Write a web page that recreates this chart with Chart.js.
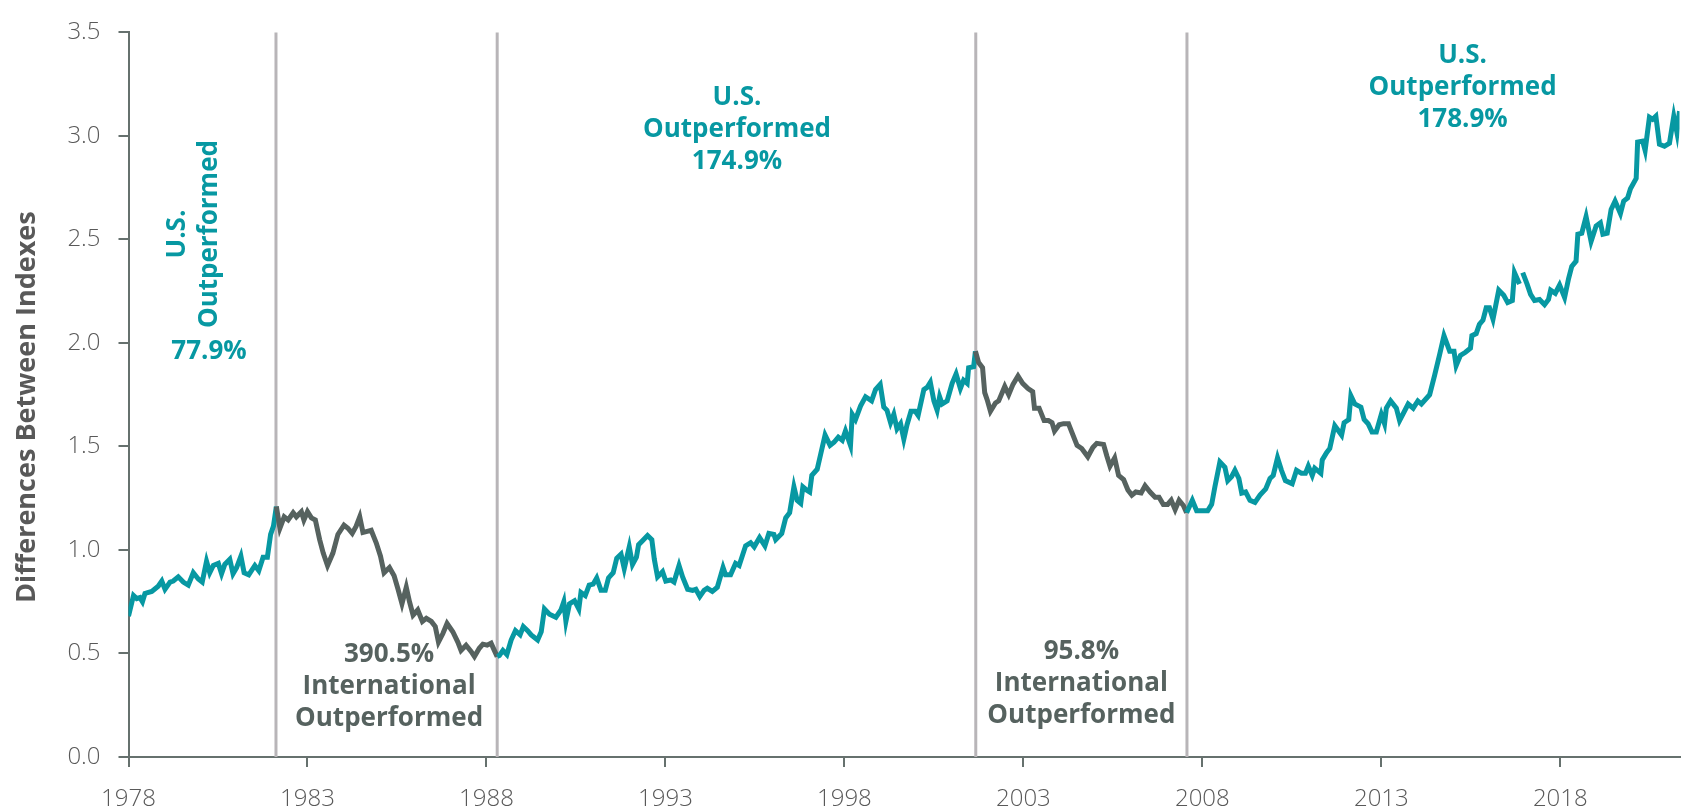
<!DOCTYPE html>
<html>
<head>
<meta charset="utf-8">
<title>Differences Between Indexes</title>
<script src="https://cdn.jsdelivr.net/npm/chart.js"></script>
<style>
  html, body { margin: 0; padding: 0; background: #fff; }
  #wrap { width: 1682px; height: 811px; }
</style>
</head>
<body>
<div id="wrap"><canvas id="ratioChart" width="1682" height="811"></canvas></div>
<script>
    // ratio between the indexes, [year, value], one list per period
    const usRun1978 = [
        [1978.00,0.68],[1978.14,0.78],[1978.23,0.765],[1978.32,0.77],[1978.39,0.75],[1978.46,0.79],
        [1978.65,0.80],[1978.83,0.825],[1978.93,0.85],[1979.02,0.81],[1979.16,0.845],[1979.25,0.85],
        [1979.39,0.87],[1979.53,0.845],[1979.67,0.83],[1979.81,0.89],[1979.95,0.86],[1980.06,0.845],
        [1980.18,0.945],[1980.27,0.89],[1980.37,0.925],[1980.51,0.935],[1980.60,0.885],[1980.69,0.93],
        [1980.83,0.955],[1980.92,0.885],[1981.02,0.915],[1981.14,0.97],[1981.23,0.89],[1981.36,0.88],
        [1981.53,0.925],[1981.64,0.90],[1981.76,0.965],[1981.88,0.965],[1981.97,1.075],[1982.05,1.115],
        [1982.13,1.21]
    ];
    const intlRun1982 = [
        [1982.23,1.105],[1982.35,1.16],[1982.46,1.145],[1982.60,1.18],[1982.69,1.16],[1982.83,1.185],
        [1982.90,1.145],[1983.00,1.185],[1983.11,1.155],[1983.22,1.145],[1983.34,1.05],[1983.44,0.985],
        [1983.56,0.925],[1983.71,0.985],[1983.85,1.075],[1984.02,1.12],[1984.13,1.105],[1984.25,1.08],
        [1984.36,1.115],[1984.46,1.16],[1984.55,1.085],[1984.67,1.09],[1984.78,1.095],[1984.92,1.035],
        [1985.04,0.97],[1985.14,0.89],[1985.29,0.915],[1985.42,0.875],[1985.53,0.81],[1985.64,0.74],
        [1985.76,0.82],[1985.85,0.75],[1985.95,0.685],[1986.08,0.71],[1986.21,0.655],[1986.32,0.67],
        [1986.46,0.655],[1986.57,0.63],[1986.66,0.555],[1986.78,0.595],[1986.90,0.645],[1987.06,0.605],
        [1987.20,0.555],[1987.29,0.515],[1987.43,0.54],[1987.57,0.51],[1987.665,0.485],[1987.80,0.525],
        [1987.90,0.545],[1988.02,0.54],[1988.13,0.55],[1988.22,0.515],[1988.30,0.485]
    ];
    const usRun1988 = [
        [1988.36,0.49],[1988.46,0.515],[1988.57,0.495],[1988.69,0.565],[1988.81,0.61],[1988.94,0.59],
        [1989.03,0.63],[1989.15,0.61],[1989.25,0.59],[1989.43,0.565],[1989.53,0.605],[1989.62,0.715],
        [1989.76,0.69],[1989.94,0.675],[1990.08,0.71],[1990.16,0.75],[1990.22,0.655],[1990.32,0.74],
        [1990.46,0.755],[1990.58,0.715],[1990.64,0.795],[1990.76,0.78],[1990.87,0.83],[1990.98,0.835],
        [1991.08,0.865],[1991.20,0.805],[1991.32,0.805],[1991.41,0.865],[1991.54,0.89],[1991.64,0.96],
        [1991.76,0.98],[1991.85,0.91],[1991.99,1.015],[1992.08,0.93],[1992.19,0.965],[1992.25,1.025],
        [1992.36,1.045],[1992.50,1.07],[1992.62,1.05],[1992.69,0.955],[1992.78,0.87],[1992.92,0.895],
        [1993.01,0.85],[1993.15,0.855],[1993.24,0.845],[1993.38,0.925],[1993.48,0.87],[1993.62,0.81],
        [1993.76,0.805],[1993.85,0.81],[1993.96,0.775],[1994.08,0.805],[1994.17,0.815],[1994.31,0.80],
        [1994.45,0.82],[1994.61,0.915],[1994.68,0.88],[1994.82,0.88],[1994.96,0.935],[1995.06,0.925],
        [1995.24,1.02],[1995.38,1.035],[1995.48,1.015],[1995.63,1.06],[1995.78,1.02],[1995.89,1.08],
        [1996.03,1.075],[1996.08,1.05],[1996.25,1.08],[1996.36,1.155],[1996.47,1.18],[1996.59,1.305],
        [1996.68,1.24],[1996.78,1.225],[1996.84,1.305],[1996.94,1.29],[1997.03,1.28],[1997.09,1.36],
        [1997.24,1.39],[1997.34,1.465],[1997.46,1.555],[1997.60,1.505],[1997.71,1.52],[1997.83,1.545],
        [1997.94,1.53],[1998.03,1.575],[1998.17,1.505],[1998.22,1.655],[1998.31,1.63],[1998.45,1.695],
        [1998.59,1.74],[1998.76,1.72],[1998.87,1.775],[1999.00,1.80],[1999.10,1.69],[1999.19,1.675],
        [1999.29,1.615],[1999.38,1.655],[1999.47,1.585],[1999.57,1.61],[1999.66,1.535],[1999.75,1.605],
        [1999.86,1.67],[1999.98,1.67],[2000.06,1.65],[2000.22,1.775],[2000.31,1.785],[2000.40,1.81],
        [2000.50,1.72],[2000.59,1.675],[2000.66,1.74],[2000.73,1.705],[2000.87,1.72],[2001.01,1.805],
        [2001.12,1.85],[2001.24,1.78],[2001.33,1.82],[2001.43,1.805],[2001.47,1.88],[2001.61,1.885],
        [2001.66,1.96]
    ];
    const intlRun2001 = [
        [2001.75,1.905],[2001.86,1.88],[2001.92,1.76],[2001.99,1.725],[2002.08,1.67],[2002.22,1.71],
        [2002.31,1.72],[2002.48,1.79],[2002.59,1.75],[2002.71,1.80],[2002.85,1.84],[2002.98,1.805],
        [2003.13,1.78],[2003.26,1.765],[2003.31,1.685],[2003.44,1.685],[2003.58,1.625],[2003.70,1.625],
        [2003.80,1.615],[2003.87,1.575],[2004.00,1.605],[2004.12,1.61],[2004.26,1.61],[2004.35,1.57],
        [2004.50,1.505],[2004.63,1.49],[2004.80,1.45],[2004.94,1.495],[2005.05,1.515],[2005.24,1.51],
        [2005.33,1.455],[2005.42,1.405],[2005.55,1.445],[2005.66,1.36],[2005.80,1.34],[2005.92,1.29],
        [2006.03,1.265],[2006.14,1.28],[2006.29,1.275],[2006.40,1.31],[2006.54,1.28],[2006.68,1.255],
        [2006.79,1.255],[2006.91,1.22],[2007.03,1.22],[2007.13,1.24],[2007.24,1.195],[2007.35,1.24],
        [2007.47,1.215],[2007.56,1.18]
    ];
    const usRun2007 = [
        [2007.72,1.24],[2007.84,1.19],[2008.15,1.19],[2008.26,1.22],[2008.35,1.305],[2008.49,1.425],
        [2008.63,1.40],[2008.71,1.335],[2008.82,1.355],[2008.91,1.385],[2009.02,1.345],[2009.10,1.275],
        [2009.21,1.28],[2009.33,1.24],[2009.47,1.23],[2009.61,1.265],[2009.77,1.295],[2009.89,1.345],
        [2009.98,1.36],[2010.10,1.445],[2010.21,1.385],[2010.32,1.335],[2010.51,1.32],[2010.63,1.385],
        [2010.77,1.37],[2010.88,1.37],[2010.96,1.405],[2011.07,1.36],[2011.14,1.395],[2011.31,1.37],
        [2011.35,1.435],[2011.47,1.47],[2011.56,1.49],[2011.70,1.60],[2011.89,1.555],[2011.96,1.615],
        [2012.09,1.63],[2012.15,1.745],[2012.26,1.705],[2012.43,1.69],[2012.52,1.63],[2012.63,1.61],
        [2012.74,1.57],[2012.86,1.57],[2013.00,1.655],[2013.09,1.61],[2013.14,1.685],[2013.26,1.72],
        [2013.42,1.685],[2013.51,1.625],[2013.75,1.705],[2013.89,1.685],[2014.02,1.72],[2014.12,1.705],
        [2014.35,1.75],[2014.49,1.845],[2014.63,1.945],[2014.75,2.035],[2014.91,1.96],[2015.03,1.96],
        [2015.09,1.89],[2015.21,1.94],[2015.35,1.955],[2015.49,1.975],[2015.53,2.035],[2015.65,2.045],
        [2015.74,2.09],[2015.84,2.11],[2015.93,2.17],[2016.02,2.17],[2016.12,2.115],[2016.28,2.255],
        [2016.42,2.23],[2016.53,2.195],[2016.66,2.205],[2016.72,2.34],[2016.86,2.285],[2016.90,null],
        [2016.95,2.34],[2017.07,2.285],[2017.17,2.235],[2017.28,2.205],[2017.42,2.21],[2017.56,2.185],
        [2017.67,2.21],[2017.73,2.255],[2017.86,2.24],[2017.98,2.28],[2018.12,2.22],[2018.23,2.31],
        [2018.32,2.37],[2018.44,2.395],[2018.49,2.525],[2018.60,2.53],[2018.72,2.61],[2018.86,2.49],
        [2019.00,2.565],[2019.12,2.58],[2019.19,2.525],[2019.31,2.53],[2019.42,2.645],[2019.53,2.685],
        [2019.68,2.625],[2019.77,2.685],[2019.88,2.70],[2019.96,2.745],[2020.12,2.795],[2020.16,2.97],
        [2020.30,2.975],[2020.37,2.93],[2020.49,3.09],[2020.58,3.08],[2020.67,3.095],[2020.77,2.96],
        [2020.91,2.95],[2021.05,2.965],[2021.17,3.095],[2021.26,3.015],[2021.33,3.12]
    ];

    const tickYears = [1978, 1983, 1988, 1993, 1998, 2003, 2008, 2013, 2018];
    const periodBreaks = [1982.12, 1988.30, 2001.67, 2007.57];
    const yTitle = 'Differences Between Indexes';

    // callouts: text lines, centre in data units (year, value of first line)
    const notes = [
        { lines: ['U.S.', 'Outperformed'], x: 1979.82, y: 2.526, rotate: true, color: 'teal' },
        { lines: ['77.9%'], x: 1980.25, y: 1.957, color: 'teal' },
        { lines: ['U.S.', 'Outperformed', '174.9%'], x: 1995.0, y: 3.185, color: 'teal' },
        { lines: ['U.S.', 'Outperformed', '178.9%'], x: 2015.27, y: 3.39, color: 'teal' },
        { lines: ['390.5%', 'International', 'Outperformed'], x: 1985.28, y: 0.495, color: 'gray' },
        { lines: ['95.8%', 'International', 'Outperformed'], x: 2004.62, y: 0.51, color: 'gray' }
    ];

    const colors = {
        teal: '#0798a2',
        gray: '#56625f',
        breakLine: '#b8b5b8',
        axis: '#66716e',
        tickText: '#595959'
    };

    const allPoints = [].concat(usRun1978, intlRun1982, usRun1988, intlRun2001, usRun2007)
        .map(p => ({ x: p[0], y: p[1] }));

    function periodIndex(year) {
        let i = 0;
        while (i < periodBreaks.length && year > periodBreaks[i]) i++;
        return i;
    }

    // grey vertical lines where the leadership switched
    const breakLines = {
        id: 'breakLines',
        beforeDatasetsDraw(chart) {
            const { ctx, chartArea, scales } = chart;
            ctx.save();
            ctx.strokeStyle = colors.breakLine;
            ctx.lineWidth = 3;
            periodBreaks.forEach(year => {
                const x = scales.x.getPixelForValue(year);
                ctx.beginPath();
                ctx.moveTo(x, chartArea.top);
                ctx.lineTo(x, chartArea.bottom);
                ctx.stroke();
            });
            ctx.restore();
        }
    };

    const callouts = {
        id: 'callouts',
        afterDatasetsDraw(chart) {
            const { ctx, scales } = chart;
            const lineGap = 32;
            ctx.save();
            ctx.font = 'bold 26px "Open Sans"';
            ctx.textAlign = 'center';
            ctx.textBaseline = 'middle';
            notes.forEach(n => {
                const px = scales.x.getPixelForValue(n.x);
                const py = scales.y.getPixelForValue(n.y);
                ctx.fillStyle = colors[n.color];
                if (n.rotate) {
                    ctx.save();
                    ctx.translate(px, py);
                    ctx.rotate(-Math.PI / 2);
                    n.lines.forEach((t, i) => {
                        ctx.fillText(t, 0, (i - (n.lines.length - 1) / 2) * lineGap);
                    });
                    ctx.restore();
                } else {
                    n.lines.forEach((t, i) => ctx.fillText(t, px, py + i * lineGap));
                }
            });

            // y axis title, sits a little below the middle of the axis
            ctx.save();
            ctx.translate(35, scales.y.getPixelForValue(1.69));
            ctx.rotate(-Math.PI / 2);
            ctx.font = 'bold 27px "Open Sans"';
            ctx.textBaseline = 'alphabetic';
            ctx.fillStyle = colors.tickText;
            ctx.fillText(yTitle, 0, 0);
            ctx.restore();
            ctx.restore();
        }
    };

    const chart = new Chart(document.getElementById('ratioChart'), {
        type: 'line',
        data: {
            datasets: [{
                data: allPoints,
                borderColor: colors.teal,
                borderWidth: 5,
                pointRadius: 0,
                tension: 0,
                spanGaps: false,
                segment: {
                    borderColor: c => periodIndex((c.p0.parsed.x + c.p1.parsed.x) / 2) % 2 === 0 ? colors.teal : colors.gray
                }
            }]
        },
        options: {
            responsive: false,
            animation: false,
            events: [],
            layout: { padding: { top: 23.5, right: 0, left: 0, bottom: 0 } },
            plugins: { legend: { display: false }, tooltip: { enabled: false } },
            scales: {
                x: {
                    type: 'linear',
                    min: 1978,
                    max: 2021.33,
                    afterBuildTicks: s => { s.ticks = tickYears.map(v => ({ value: v })); },
                    afterFit: s => { s.height = 54; },
                    border: { color: colors.axis, width: 2 },
                    grid: { drawOnChartArea: false, drawTicks: true, tickLength: 10, color: colors.axis, lineWidth: 2 },
                    ticks: {
                        autoSkip: false,
                        maxRotation: 0,
                        padding: 18,
                        color: colors.tickText,
                        font: { family: '"Open Sans"', size: 24, weight: '300' },
                        callback: v => String(v)
                    }
                },
                y: {
                    min: 0,
                    max: 3.5,
                    afterFit: s => { s.width = 128.5; },
                    border: { color: colors.axis, width: 2 },
                    grid: { drawOnChartArea: false, drawTicks: true, tickLength: 10, color: colors.axis, lineWidth: 2 },
                    ticks: {
                        stepSize: 0.5,
                        padding: 18,
                        color: colors.tickText,
                        font: { family: '"Open Sans"', size: 24, weight: '300' },
                        callback: v => v.toFixed(1)
                    }
                }
            }
        },
        plugins: [breakLines, callouts]
    });

    // keep the top of the plot at the 3.5 line of the original
    const topShift = chart.chartArea.top - 23.5;
    if (Math.abs(topShift) > 0.5) {
        chart.options.layout.padding.top -= topShift;
        chart.update();
    }
</script>
</body>
</html>
